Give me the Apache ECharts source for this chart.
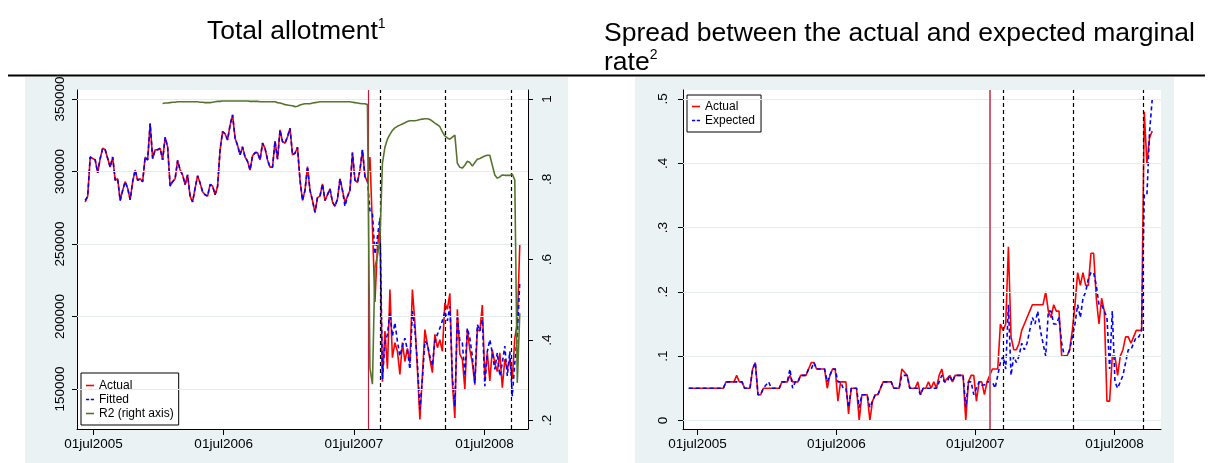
<!DOCTYPE html>
<html><head><meta charset="utf-8">
<script src="https://cdn.jsdelivr.net/npm/echarts@6/dist/echarts.min.js"></script>
<style>html,body{margin:0;padding:0;background:#fff}#c{width:1210px;height:463px}</style>
</head><body><div id="c"></div>
<script>
// ---------------- data ----------------
const dates = [
'2005-06-08','2005-06-15','2005-06-22','2005-06-29','2005-07-06','2005-07-13','2005-07-20','2005-07-27','2005-08-03','2005-08-10','2005-08-17','2005-08-24','2005-08-31','2005-09-07','2005-09-14','2005-09-21','2005-09-28','2005-10-05','2005-10-12','2005-10-19','2005-10-26','2005-11-02','2005-11-09','2005-11-16','2005-11-23','2005-11-30','2005-12-07','2005-12-14','2005-12-21','2005-12-28',
'2006-01-04','2006-01-11','2006-01-18','2006-01-25','2006-02-01','2006-02-08','2006-02-15','2006-02-22','2006-03-01','2006-03-08','2006-03-15','2006-03-22','2006-03-29','2006-04-05','2006-04-12','2006-04-19','2006-04-26','2006-05-03','2006-05-10','2006-05-17','2006-05-24','2006-05-31','2006-06-07','2006-06-14','2006-06-21','2006-06-28','2006-07-05','2006-07-12','2006-07-19','2006-07-26','2006-08-02','2006-08-09','2006-08-16','2006-08-23','2006-08-30','2006-09-06','2006-09-13','2006-09-20','2006-09-27','2006-10-04','2006-10-11','2006-10-18','2006-10-25','2006-11-01','2006-11-08','2006-11-15','2006-11-22','2006-11-29','2006-12-06','2006-12-13','2006-12-20','2006-12-27',
'2007-01-03','2007-01-10','2007-01-17','2007-01-24','2007-01-31','2007-02-07','2007-02-14','2007-02-21','2007-02-28','2007-03-07','2007-03-14','2007-03-21','2007-03-28','2007-04-04','2007-04-11','2007-04-18','2007-04-25','2007-05-02','2007-05-09','2007-05-16','2007-05-23','2007-05-30','2007-06-06','2007-06-13','2007-06-20','2007-06-27','2007-07-04','2007-07-11','2007-07-18','2007-07-25','2007-08-01','2007-08-08','2007-08-15','2007-08-22','2007-08-29','2007-09-05','2007-09-12','2007-09-19','2007-09-26','2007-10-03','2007-10-10','2007-10-17','2007-10-24','2007-10-31','2007-11-07','2007-11-14','2007-11-21','2007-11-28','2007-12-05','2007-12-12','2007-12-19','2007-12-26',
'2008-01-02','2008-01-09','2008-01-16','2008-01-23','2008-01-30','2008-02-06','2008-02-13','2008-02-20','2008-02-27','2008-03-05','2008-03-12','2008-03-19','2008-03-26','2008-04-02','2008-04-09','2008-04-16','2008-04-23','2008-04-30','2008-05-07','2008-05-14','2008-05-21','2008-05-28','2008-06-04','2008-06-11','2008-06-18','2008-06-25','2008-07-02','2008-07-09','2008-07-16','2008-07-23','2008-07-30','2008-08-06','2008-08-13','2008-08-20','2008-08-27','2008-09-03','2008-09-10','2008-09-17','2008-09-24','2008-10-01','2008-10-08'
];

const allotActual = [
279000,283000,310000,309000,308000,299000,309000,316000,315000,309000,
303000,310000,294000,295000,280000,287000,293000,288500,280500,293000,
301000,294000,295000,293000,310000,308000,333000,309000,315000,315000,
316000,308000,323600,317000,290000,293000,295000,307600,301000,297700,
291000,297700,283000,279000,288500,297000,292000,286000,284000,283000,
291000,290000,284000,289700,315000,327500,326000,321800,332000,339000,
323000,318000,311500,317000,310000,307000,301000,310800,313000,313000,
308000,319500,316000,308000,303000,303000,321000,308500,328700,320600,
319500,324000,329800,311500,312600,316700,294000,280000,287000,303400,
287000,280000,271800,282000,283000,291500,280000,284000,288000,279000,
276000,281000,295000,287000,278700,282800,287000,313000,294000,292400,
301000,315000,296600,293000,310000,262000,210000,248000,262000,155000,
190000,164000,218600,171600,182000,176000,160000,182000,169000,178000,
168000,218600,195700,163600,129000,159000,191000,180800,170500,161300,
187700,178500,184000,176000,209400,205000,216000,154000,130000,205000,
174000,170500,150000,191000,177000,168000,153000,191000,190000,208000,
157000,175000,155600,177000,168000,162000,175000,151000,170500,163600,
170500,157000,185000,195700,249600
];

const allotFitted = [
280000,283000,310000,309000,308000,299000,309000,316000,315000,309000,
303000,310000,294000,295000,280000,287000,293000,288500,280500,293000,
301000,294000,295000,293000,310000,308000,333000,309000,315000,315000,
316000,308000,323600,317000,290000,293000,295000,307600,301000,297700,
291000,297700,283000,279000,288500,297000,292000,286000,284000,283000,
291000,290000,284000,289700,315000,327500,326000,321800,332000,339000,
323000,318000,311500,317000,310000,307000,301000,310800,313000,313000,
308000,319500,316000,308000,303000,303000,321000,308500,328700,320600,
319500,324000,329800,311500,312600,316700,294000,280000,287000,303400,
287000,280000,271800,282000,283000,291500,280000,284000,288000,279000,
276000,281000,295000,287000,276000,282800,287000,313000,294000,292400,
301000,315000,296600,294000,273000,271000,243000,255000,268000,157000,
182000,187700,202600,186500,195700,183000,172700,179600,185000,177000,
163600,203700,191000,168000,136000,157000,183000,180800,172700,166000,
183000,187700,192000,197000,203700,197000,207000,159000,138000,199000,
183000,182000,159000,192000,185000,172700,154000,194500,190000,198000,
152000,176000,184000,175000,163600,175000,159000,168000,179600,159000,
176000,145000,168000,186500,224000
];

const r2 = [
null,null,null,null,null,null,null,null,null,null,
null,null,null,null,null,null,null,null,null,null,
null,null,null,null,null,null,null,null,null,null,
null,0.989,0.990,0.990,0.991,0.992,0.992,0.993,0.993,0.993,
0.993,0.993,0.993,0.993,0.993,0.993,0.992,0.992,0.991,0.991,
0.991,0.992,0.993,0.994,0.994,0.995,0.995,0.995,0.995,0.995,
0.995,0.995,0.995,0.995,0.995,0.995,0.994,0.994,0.994,0.994,
0.993,0.993,0.993,0.993,0.993,0.993,0.993,0.991,0.990,0.988,
0.986,0.985,0.984,0.983,0.981,0.982,0.985,0.987,0.988,0.988,
0.988,0.990,0.991,0.992,0.993,0.993,0.993,0.993,0.993,0.993,
0.993,0.993,0.993,0.993,0.993,0.993,0.993,0.992,0.991,0.990,
0.989,0.988,0.988,0.986,0.33,0.29,0.58,0.61,0.65,0.84,
0.88,0.90,0.912,0.922,0.928,0.932,0.935,0.938,0.941,0.944,
0.946,0.946,0.946,0.947,0.949,0.950,0.951,0.951,0.949,0.945,
0.940,0.936,0.931,0.918,0.908,0.903,0.900,0.905,0.910,0.840,
0.830,0.828,0.835,0.845,0.842,0.833,0.842,0.850,0.852,0.855,
0.858,0.860,0.860,0.835,0.811,0.803,0.806,0.811,0.810,0.810,
0.810,0.813,0.798,0.293,0.467
];

const spreadActual = [
0.05,0.05,0.05,0.05,0.05,0.05,0.05,0.05,0.05,0.05,
0.05,0.05,0.05,0.05,0.06,0.06,0.06,0.06,0.07,0.06,
0.06,0.05,0.05,0.05,0.08,0.09,0.04,0.04,0.05,0.05,
0.05,0.05,0.05,0.05,0.05,0.06,0.06,0.06,0.07,0.06,
0.06,0.06,0.07,0.07,0.07,0.08,0.09,0.09,0.08,0.08,
0.08,0.08,0.05,0.07,0.08,0.08,0.03,0.06,0.06,0.06,
0.01,0.05,0.05,0.05,0.00,0.04,0.04,0.04,0.00,0.03,
0.04,0.04,0.05,0.06,0.06,0.06,0.06,0.05,0.05,0.05,
0.08,0.075,0.07,0.05,0.05,0.05,0.06,0.04,0.05,0.05,
0.06,0.05,0.06,0.05,0.07,0.08,0.06,0.065,0.07,0.06,
0.07,0.07,0.07,0.07,0.00,0.06,0.07,0.07,0.03,0.06,
0.06,0.04,0.06,0.07,0.08,0.08,0.08,0.15,0.14,0.15,
0.27,0.13,0.11,0.11,0.12,0.14,0.15,0.16,0.17,0.18,
0.18,0.18,0.18,0.18,0.20,0.17,0.16,0.18,0.17,0.17,
0.10,0.10,0.10,0.11,0.14,0.18,0.23,0.21,0.23,0.21,
0.21,0.26,0.26,0.19,0.15,0.19,0.17,0.03,0.03,0.10,
0.10,0.07,0.10,0.11,0.13,0.13,0.12,0.13,0.14,0.14,
0.14,0.48,0.40,0.44,0.45
];

const spreadExpected = [
0.05,0.05,0.05,0.05,0.05,0.05,0.05,0.05,0.05,0.05,
0.05,0.05,0.05,0.05,0.06,0.06,0.06,0.06,0.06,0.06,
0.06,0.05,0.05,0.05,0.08,0.09,0.04,0.04,0.05,0.055,
0.06,0.05,0.05,0.05,0.05,0.06,0.06,0.06,0.08,0.05,
0.06,0.06,0.07,0.07,0.07,0.08,0.08,0.09,0.08,0.08,
0.08,0.08,0.06,0.07,0.08,0.08,0.06,0.06,0.05,0.05,
0.02,0.05,0.05,0.05,0.02,0.04,0.04,0.04,0.02,0.03,
0.04,0.04,0.05,0.06,0.06,0.06,0.06,0.05,0.05,0.05,
0.07,0.07,0.07,0.05,0.05,0.05,0.05,0.04,0.05,0.05,
0.05,0.05,0.05,0.05,0.06,0.07,0.06,0.06,0.07,0.06,
0.07,0.07,0.07,0.07,0.02,0.06,0.06,0.04,0.05,0.06,
0.055,0.055,0.06,0.06,0.06,0.05,0.07,0.09,0.10,0.08,
0.18,0.07,0.10,0.09,0.10,0.12,0.11,0.12,0.14,0.16,
0.15,0.17,0.14,0.12,0.10,0.17,0.17,0.15,0.15,0.16,
0.12,0.10,0.10,0.11,0.13,0.15,0.18,0.16,0.19,0.20,
0.22,0.23,0.23,0.21,0.18,0.18,0.17,0.16,0.08,0.17,
0.06,0.05,0.06,0.07,0.09,0.11,0.11,0.12,0.13,0.13,
0.14,0.35,0.35,0.45,0.50
];

const xTickDates = ['2005-07-01','2006-07-01','2007-07-01','2008-07-01'];
const xTickLabels = ['01jul2005','01jul2006','01jul2007','01jul2008'];
const allotTicks = [150000,200000,250000,300000,350000];
const allotTickLabels = ['150000','200000','250000','300000','350000'];
const r2Ticks = [0.2,0.4,0.6,0.8,1];
const r2TickLabels = ['.2','.4','.6','.8','1'];
const spreadTicks = [0,0.1,0.2,0.3,0.4,0.5];
const spreadTickLabels = ['0','.1','.2','.3','.4','.5'];
const turmoilDate = '2007-08-09';
const eventDates = ['2007-09-13','2008-03-14','2008-09-15'];

// ---------------- chart ----------------
const FONT = "'Liberation Sans', Arial, Helvetica, sans-serif";
const ts = s => Date.parse(s);
const tickTs = xTickDates.map(ts);
const pick = (vals, labels) => v => {
  let b = 0, d = Infinity;
  vals.forEach((t, i) => { const e = Math.abs(t - v); if (e < d) { d = e; b = i; } });
  return labels[b];
};
const GRIDC = '#e4ecee';
const ICON_SOLID = 'path://M0,0h10v2h-10z';
const ICON_DASH = 'path://M0,0h4v2h-4z M6,0h4v2h-4z';

function xAxisDef(gi, minD, maxD) {
  return {
    type: 'value', gridIndex: gi, min: ts(minD), max: ts(maxD),
    axisLine: { show: true, onZero: false, lineStyle: { color: '#000', width: 1 } },
    axisTick: { show: true, customValues: tickTs, length: 6, lineStyle: { color: '#000', width: 1 } },
    axisLabel: { customValues: tickTs, formatter: pick(tickTs, xTickLabels), color: '#000',
      fontSize: 13.5, fontFamily: FONT, margin: 8 },
    splitLine: { show: false }
  };
}
function yAxisDef(gi, pos, mn, mx, ticks, labels, margin) {
  return {
    type: 'value', gridIndex: gi, position: pos, min: mn, max: mx,
    axisLine: { show: true, lineStyle: { color: '#000', width: 1 } },
    axisTick: { show: true, customValues: ticks, length: 5, lineStyle: { color: '#000', width: 1 } },
    axisLabel: { customValues: ticks, formatter: pick(ticks, labels), rotate: 90, color: '#000',
      fontSize: 13.5, fontFamily: FONT, margin: margin },
    splitLine: { show: false }
  };
}
function refLines(xi, yi, gridTicks, redColor, redWidth) {
  return {
    type: 'line', xAxisIndex: xi, yAxisIndex: yi, data: [], z: 1, silent: true,
    markLine: {
      silent: true, symbol: ['none', 'none'], animation: false,
      label: { show: false }, emphasis: { disabled: true },
      data: [
        ...gridTicks.map(v => ({ yAxis: v, lineStyle: { color: GRIDC, width: 1, type: 'solid' } })),
        { xAxis: ts(turmoilDate), lineStyle: { color: redColor, width: redWidth, type: 'solid' } },
        ...eventDates.map(d => ({ xAxis: ts(d), lineStyle: { color: '#000', width: 1.2, type: [4, 3] } }))
      ]
    }
  };
}
function lineSeries(name, xi, yi, ys, color, dashed, z) {
  return {
    name, type: 'line', xAxisIndex: xi, yAxisIndex: yi, z,
    data: dates.map((d, i) => [ts(d), ys[i]]),
    symbol: 'none', showSymbol: false, connectNulls: false,
    lineStyle: { color, width: 1.6, type: dashed ? [4, 3] : 'solid' },
    itemStyle: { color },
    emphasis: { disabled: true }
  };
}
const legendBase = {
  orient: 'vertical', backgroundColor: '#fff', borderColor: '#000', borderWidth: 1, borderRadius: 0,
  itemWidth: 8, itemHeight: 1.6, itemGap: 1, selectedMode: false,
  textStyle: { color: '#000', fontSize: 12, fontFamily: FONT, lineHeight: 13 }
};
const titleRich = {
  m: { fontSize: 26.5, lineHeight: 29, fontFamily: FONT, fontWeight: 'normal', color: '#000' },
  s: { fontSize: 14, lineHeight: 16, verticalAlign: 'top', fontFamily: FONT, fontWeight: 'normal', color: '#000' }
};

const chart = echarts.init(document.getElementById('c'), null, { renderer: 'canvas' });
chart.setOption({
  animation: false,
  title: [
    { left: 207, top: 17, padding: 0, text: '{m|Total allotment}{s|1}', textStyle: { fontWeight: 'normal', rich: titleRich } },
    { left: 604, top: 19, padding: 0, text: '{m|Spread between the actual and expected marginal}\n{m|rate}{s|2}', textStyle: { fontWeight: 'normal', rich: titleRich } }
  ],
  graphic: { elements: [
    { type: 'rect', z: -5, silent: true, shape: { x: 25, y: 77, width: 543, height: 386 }, style: { fill: '#eaf2f3' } },
    { type: 'rect', z: -5, silent: true, shape: { x: 635, y: 77, width: 539, height: 386 }, style: { fill: '#eaf2f3' } },
    { type: 'line', z: 5, silent: true, shape: { x1: 8, y1: 75.5, x2: 1205, y2: 75.5 }, style: { stroke: '#000', lineWidth: 2 } }
  ]},
  grid: [
    { left: 77, top: 90, right: 682, bottom: 34, show: true, backgroundColor: '#fff', borderWidth: 0 },
    { left: 683, top: 90, right: 49, bottom: 34, show: true, backgroundColor: '#fff', borderWidth: 0 }
  ],
  xAxis: [ xAxisDef(0, '2005-05-16', '2008-10-31'), xAxisDef(1, '2005-05-24', '2008-10-31') ],
  yAxis: [
    yAxisDef(0, 'left', 122442, 356200, allotTicks, allotTickLabels, 10),
    yAxisDef(0, 'right', 0.1786, 1.0224, r2Ticks, r2TickLabels, 12),
    yAxisDef(1, 'left', -0.01337, 0.51399, spreadTicks, spreadTickLabels, 13)
  ],
  legend: [
    Object.assign({}, legendBase, { left: 81, top: 373, padding: [6, 5, 5, 5],
      data: [{ name: 'Actual', icon: ICON_SOLID }, { name: 'Fitted', icon: ICON_DASH }, { name: 'R2 (right axis)', icon: ICON_SOLID }] }),
    Object.assign({}, legendBase, { left: 687, top: 95, padding: [5, 6, 5, 5],
      data: [{ name: 'Actual', icon: ICON_SOLID }, { name: 'Expected', icon: ICON_DASH }] })
  ],
  series: [
    refLines(0, 0, allotTicks, '#c01a3c', 1.2),
    lineSeries('Actual', 0, 0, allotActual, '#ff0000', false, 3),
    lineSeries('Fitted', 0, 0, allotFitted, '#0000ff', true, 4),
    lineSeries('R2 (right axis)', 0, 1, r2, '#55752f', false, 5),
    refLines(1, 2, spreadTicks, '#cf5f73', 2),
    lineSeries('Actual', 1, 2, spreadActual, '#ff0000', false, 3),
    lineSeries('Expected', 1, 2, spreadExpected, '#0000ff', true, 4)
  ]
});
</script>
</body></html>
